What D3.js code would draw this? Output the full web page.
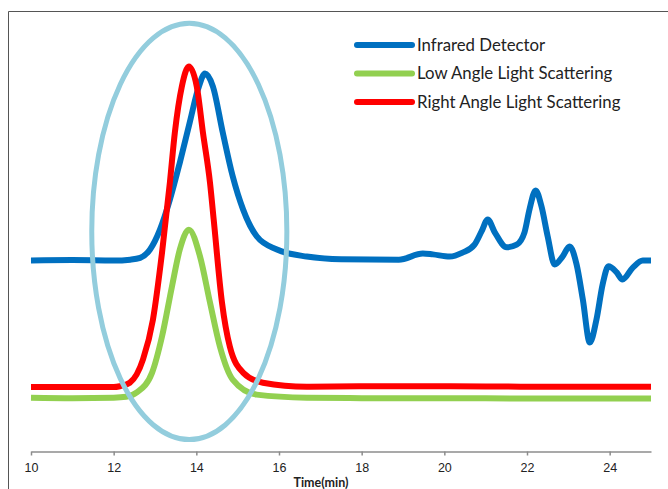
<!DOCTYPE html>
<meta charset="utf-8">
<script src="https://d3js.org/d3.v7.min.js"></script>
<style type="text/css">
body { margin: 0; background: #fff; }
svg { font-family: Lato, "Open Sans", sans-serif; }
.axis path, .axis line { stroke: #8c8c8c; stroke-width: 1.5px; }
.axis text { font-size: 12.5px; fill: #222; }
.trace { fill: none; stroke-width: 6; stroke-linejoin: round; }
.legend text { font-size: 16.8px; fill: #222; }
</style>
<body></body>
<script>

// retention time (min) and detector response (arbitrary units)
var infraredPoints = [
  [10, 43.3], [11, 43.4], [12, 43.3], [12.4, 43.5], [12.64, 43.9], [12.88, 45.8], [13.12, 50.3],
  [13.36, 57.1], [13.6, 65.5], [13.84, 74.6], [14.04, 82.1], [14.21, 85.7], [14.4, 82.8],
  [14.64, 72.3], [14.88, 62.4], [15.13, 54.9], [15.46, 48.8], [15.95, 45.8], [16.67, 44.2],
  [17.5, 43.6], [18.9, 43.5], [19.48, 44.9], [19.72, 44.7], [20.13, 44.2], [20.44, 45.1],
  [20.73, 46.9], [20.9, 49.9], [21.05, 52.6], [21.22, 49.7], [21.51, 46.3], [21.75, 46.9],
  [21.94, 49.7], [22.06, 54.9], [22.21, 59.2], [22.35, 55.6], [22.5, 48.8], [22.67, 42.4],
  [22.86, 44.2], [23.03, 46.5], [23.2, 42.4], [23.35, 34.5], [23.52, 24.7], [23.68, 29.9],
  [23.83, 37.9], [23.97, 42.0], [24.17, 40.6], [24.31, 39.0], [24.56, 41.7], [24.8, 43.3],
  [25, 43.3]
];

var lowAnglePoints = [
  [10, 12.2], [11, 12.1], [12, 12.2], [12.3, 12.4], [12.56, 13.4], [12.93, 17.9], [13.17, 26.1],
  [13.41, 37.4], [13.6, 45.8], [13.82, 50.3], [14.09, 44.2], [14.33, 33.8], [14.57, 23.8],
  [14.88, 16.3], [15.46, 12.9], [16.67, 12.2], [18, 12.1], [20, 12.1], [22, 12.0], [25, 12.0]
];

var rightAnglePoints = [
  [10, 14.6], [11, 14.6], [12, 14.6], [12.15, 14.8], [12.39, 15.6], [12.71, 20.9], [12.95, 29.9],
  [13.17, 45.1], [13.36, 61.0], [13.48, 72.3], [13.65, 82.8], [13.82, 87.3], [14.01, 82.8],
  [14.16, 72.3], [14.33, 61.0], [14.42, 52.6], [14.62, 33.8], [14.81, 23.8], [15.13, 17.9],
  [15.61, 15.6], [16.67, 14.7], [18, 14.8], [20, 14.8], [22, 14.7], [25, 14.7]
];

var seriesNames = ['Infrared Detector', 'Low Angle Light Scattering', 'Right Angle Light Scattering'];
var seriesColors = ['#0070c0', '#92d050', '#ff0000'];
var seriesData = [infraredPoints, lowAnglePoints, rightAnglePoints];

var xTicks = [10, 12, 14, 16, 18, 20, 22, 24];

// highlighted region: centre (min, response) and radii
var ringCentre = [13.83, 49.9];
var ringRadius = [2.36, 47.2];

var width = 668, height = 489;

var svg = d3.select('body').append('svg')
  .attr('width', width)
  .attr('height', height);

var xScale = d3.scaleLinear()
  .domain([10, 25])
  .range([31, 651]);

var yScale = d3.scaleLinear()
  .domain([0, 100])
  .range([451.5, 10.5]);

// chart frame (top and left edges only)
svg.append('path')
  .attr('d', 'M8.5,' + height + 'V11.5H' + width)
  .attr('fill', 'none')
  .attr('stroke', '#555')
  .attr('stroke-width', 1);

var xAxis = d3.axisBottom(xScale)
  .tickValues(xTicks)
  .tickSizeInner(4)
  .tickSizeOuter(0)
  .tickPadding(8);

svg.append('g')
  .attr('class', 'axis')
  .attr('transform', 'translate(0,' + yScale(0) + ')')
  .call(xAxis);

svg.append('text')
  .attr('x', 321)
  .attr('y', 487)
  .attr('text-anchor', 'middle')
  .style('font-size', '12.5px')
  .style('font-weight', 'bold')
  .style('fill', '#222')
  .text('Time(min)');

var lineGenerator = d3.line()
  .x(function(d) { return xScale(d[0]); })
  .y(function(d) { return yScale(d[1]); })
  .curve(d3.curveMonotoneX);

svg.selectAll('.trace')
  .data(seriesData)
  .enter().append('path')
  .attr('class', 'trace')
  .attr('stroke', function(d, i) { return seriesColors[i]; })
  .attr('d', lineGenerator);

// the ring drawn over the peaks
svg.append('ellipse')
  .attr('cx', xScale(ringCentre[0]))
  .attr('cy', yScale(ringCentre[1]))
  .attr('rx', xScale(ringCentre[0] + ringRadius[0]) - xScale(ringCentre[0]))
  .attr('ry', yScale(ringCentre[1] - ringRadius[1]) - yScale(ringCentre[1]))
  .attr('fill', 'none')
  .attr('stroke', '#93cddd')
  .attr('stroke-width', 5);

var legend = svg.selectAll('.legend')
  .data(seriesNames)
  .enter().append('g')
  .attr('class', 'legend')
  .attr('transform', function(d, i) { return 'translate(357,' + (45 + i * 28.5) + ')'; });

legend.append('line')
  .attr('x1', 0)
  .attr('x2', 55)
  .attr('stroke', function(d, i) { return seriesColors[i]; })
  .attr('stroke-width', 6)
  .attr('stroke-linecap', 'round');

legend.append('text')
  .attr('x', 60)
  .attr('dy', '0.35em')
  .text(function(d) { return d; });

</script>
